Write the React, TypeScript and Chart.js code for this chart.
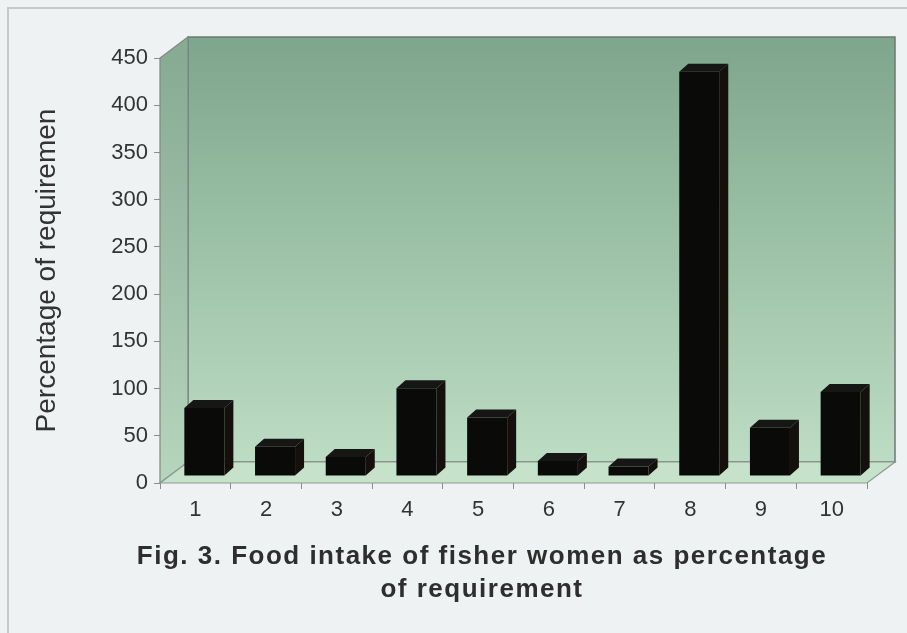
import React, { useEffect, useRef } from "react";
import { Chart, registerables } from "chart.js";

Chart.register(...registerables);

const categories = ["1", "2", "3", "4", "5", "6", "7", "8", "9", "10"];
const intakePercent = [72, 31, 20, 93, 62, 16, 10, 428, 51, 89];
const yMin = 0;
const yMax = 450;
const yStep = 50;
const yAxisTitle = "Percentage of requiremen";
const figureTitleLines = [
  "Fig. 3. Food intake of fisher women as percentage",
  "of requirement",
];

const WALL = { dx: 28, dy: -21 };
const BAR_OFFSET = { dx: 9, dy: -7 };
const BAR_DEPTH = { dx: 9, dy: -8 };
const FONT = '"Liberation Sans", Arial, sans-serif';

const threeDPlugin = {
  id: "threeD",
  beforeDraw(chart: any) {
    const { ctx, width, height } = chart;
    ctx.save();
    ctx.fillStyle = "#eef2f3";
    ctx.fillRect(0, 0, width, height);
    ctx.strokeStyle = "#c4c9cc";
    ctx.lineWidth = 2;
    ctx.beginPath();
    ctx.moveTo(8, height);
    ctx.lineTo(8, 8);
    ctx.lineTo(width, 8);
    ctx.stroke();
    ctx.restore();
  },
  beforeDatasetsDraw(chart: any) {
    const { ctx } = chart;
    const { left: L, right: R, top: T, bottom: B } = chart.chartArea;
    const { dx, dy } = WALL;
    ctx.save();
    // back wall
    const g = ctx.createLinearGradient(0, T + dy, 0, B + dy);
    g.addColorStop(0, "#7ea68c");
    g.addColorStop(0.5, "#9dc2a8");
    g.addColorStop(1, "#bddcc4");
    ctx.fillStyle = g;
    ctx.fillRect(L + dx, T + dy, R - L, B - T);
    ctx.strokeStyle = "#6c7a71";
    ctx.lineWidth = 1.5;
    ctx.strokeRect(L + dx, T + dy, R - L, B - T);
    // side wall
    const gs = ctx.createLinearGradient(0, T, 0, B);
    gs.addColorStop(0, "#88ab94");
    gs.addColorStop(1, "#b6d5bd");
    ctx.fillStyle = gs;
    ctx.beginPath();
    ctx.moveTo(L, B);
    ctx.lineTo(L, T);
    ctx.lineTo(L + dx, T + dy);
    ctx.lineTo(L + dx, B + dy);
    ctx.closePath();
    ctx.fill();
    ctx.strokeStyle = "#7d8a82";
    ctx.lineWidth = 1.2;
    ctx.stroke();
    // floor
    ctx.fillStyle = "#c6e2cb";
    ctx.beginPath();
    ctx.moveTo(L, B);
    ctx.lineTo(R, B);
    ctx.lineTo(R + dx, B + dy);
    ctx.lineTo(L + dx, B + dy);
    ctx.closePath();
    ctx.fill();
    ctx.strokeStyle = "#8d9a92";
    ctx.stroke();
    ctx.restore();
    ctx.save();
    ctx.translate(BAR_OFFSET.dx, BAR_OFFSET.dy);
  },
  afterDatasetsDraw(chart: any) {
    const { ctx } = chart;
    const meta = chart.getDatasetMeta(0);
    const { dx, dy } = BAR_DEPTH;
    meta.data.forEach((bar: any) => {
      const { x, y, base, width } = bar.getProps(["x", "y", "base", "width"], true);
      const l = x - width / 2;
      const r = x + width / 2;
      ctx.fillStyle = "#161615";
      ctx.beginPath();
      ctx.moveTo(l, y);
      ctx.lineTo(l + dx, y + dy);
      ctx.lineTo(r + dx, y + dy);
      ctx.lineTo(r, y);
      ctx.closePath();
      ctx.fill();
      ctx.fillStyle = "#15100c";
      ctx.beginPath();
      ctx.moveTo(r, y);
      ctx.lineTo(r + dx, y + dy);
      ctx.lineTo(r + dx, base + dy);
      ctx.lineTo(r, base);
      ctx.closePath();
      ctx.fill();
    });
    ctx.restore();
  },
  afterDraw(chart: any) {
    const { ctx } = chart;
    ctx.save();
    ctx.fillStyle = "#2e2e2e";
    ctx.font = `bold 26px ${FONT}`;
    (ctx as any).letterSpacing = "1.5px";
    ctx.textAlign = "center";
    ctx.textBaseline = "middle";
    ctx.fillText(figureTitleLines[0], 482, 557);
    ctx.fillText(figureTitleLines[1], 482, 590);
    ctx.restore();
  },
};

export default function App() {
  const ref = useRef<HTMLCanvasElement | null>(null);
  useEffect(() => {
    if (!ref.current) return;
    const chart = new Chart(ref.current, {
      type: "bar",
      data: {
        labels: categories,
        datasets: [
          {
            data: intakePercent,
            backgroundColor: "#0a0a09",
            borderWidth: 0,
            categoryPercentage: 1,
            barPercentage: 0.566,
            clip: false as any,
          },
        ],
      },
      options: {
        responsive: false,
        animation: false,
        devicePixelRatio: 1,
        layout: { padding: { top: 58, right: 40, bottom: 100, left: 0 } },
        plugins: {
          legend: { display: false },
          tooltip: { enabled: false },
          title: { display: false },
        },
        scales: {
          x: {
            afterFit: (s: any) => {
              s.height = 50;
            },
            border: { display: false },
            grid: {
              offset: true,
              drawOnChartArea: false,
              drawTicks: true,
              tickLength: 6,
              color: "#8a8f8c",
            },
            ticks: {
              color: "#333333",
              padding: 8,
              font: { family: FONT, size: 22 },
            },
          },
          y: {
            min: yMin,
            max: yMax,
            afterFit: (s: any) => {
              s.width = 160;
            },
            border: { display: false },
            grid: {
              drawOnChartArea: false,
              drawTicks: true,
              tickLength: 6,
              color: "#8a8f8c",
            },
            ticks: {
              stepSize: yStep,
              color: "#333333",
              padding: 6,
              font: { family: FONT, size: 22 },
            },
            title: {
              display: true,
              text: yAxisTitle,
              color: "#333333",
              font: { family: FONT, size: 28 },
              padding: { top: 30, bottom: 0 },
            },
          },
        },
      },
      plugins: [threeDPlugin],
    });
    return () => chart.destroy();
  }, []);
  return (
    <div style={{ position: "fixed", left: 0, top: 0, width: 907, height: 633 }}>
      <canvas ref={ref} width={907} height={633} />
    </div>
  );
}
